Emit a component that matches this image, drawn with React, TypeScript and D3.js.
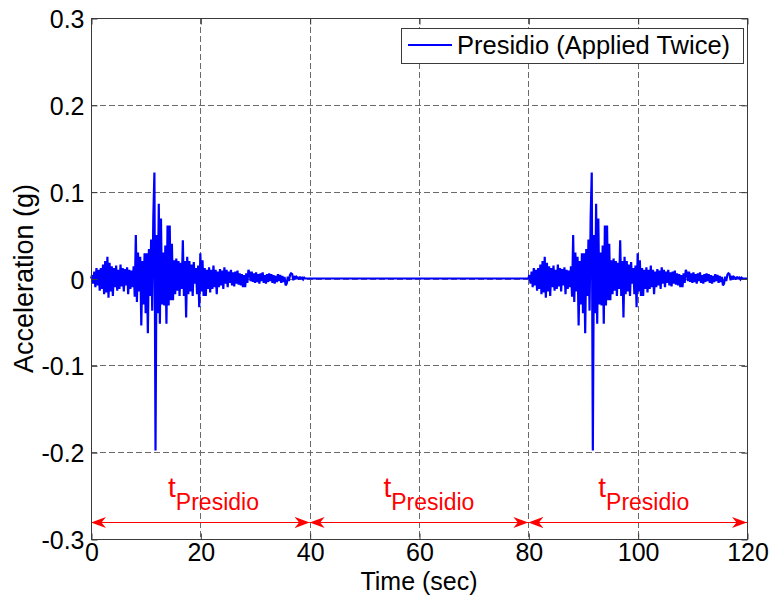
import React, { useEffect, useRef } from "react";
import * as d3 from "d3";

// ---- data ----
const xTicks = [0, 20, 40, 60, 80, 100, 120];
const xTickLabels = ["0", "20", "40", "60", "80", "100", "120"];
const yTicks = [-0.3, -0.2, -0.1, 0, 0.1, 0.2, 0.3];
const yTickLabels = ["-0.3", "-0.2", "-0.1", "0", "0.1", "0.2", "0.3"];
const xDomain = [0, 120];
const yDomain = [-0.3, 0.3];

const presidioDt = 0.2;
const presidioRecord = [
  0, 0.004, -0.006, 0.008, -0.01, 0.012, -0.008, 0.01, -0.014, 0.012,
  -0.012, 0.016, -0.018, 0.02, -0.016, 0.025, -0.022, 0.018, -0.015, 0.014,
  -0.02, 0.012, -0.01, 0.015, -0.014, 0.01, -0.012, 0.016, -0.009, 0.012,
  -0.015, 0.011, -0.008, 0.013, -0.018, 0.01, -0.012, 0.009, -0.01, 0.014,
  -0.021, 0.05, -0.027, 0.03, -0.015, 0.025, -0.054, 0.02, -0.03, 0.029,
  -0.04, 0.029, -0.063, 0.034, -0.02, 0.045, -0.037, 0.07, 0.122, -0.198,
  0.05, -0.04, 0.086, -0.052, 0.069, -0.03, 0.03, -0.031, 0.038, -0.052,
  0.061, -0.031, 0.061, -0.025, 0.04, -0.025, 0.021, -0.018, 0.023, -0.014,
  0.02, -0.02, 0.018, -0.012, 0.044, -0.02, 0.02, -0.045, 0.025, -0.018,
  0.02, -0.015, 0.016, -0.02, 0.019, -0.006, 0.012, -0.018, 0.015, -0.033,
  0.029, -0.015, 0.021, -0.02, 0.012, -0.02, 0.01, -0.012, 0.013, -0.016,
  0.01, -0.012, 0.015, -0.01, 0.01, -0.018, 0.008, -0.01, 0.011, -0.008,
  0.009, -0.012, 0.013, -0.006, 0.01, -0.01, 0.008, -0.005, 0.01, -0.008,
  0.007, -0.009, 0.008, -0.006, 0.009, -0.007, 0.006, -0.008, 0.005, -0.01,
  0.004, -0.01, 0.006, -0.005, 0.01, 0.007, -0.003, 0.008, -0.004, 0.006,
  -0.005, 0.007, -0.004, 0.005, -0.006, 0.006, -0.003, 0.007, -0.005, 0.004,
  -0.006, 0.005, -0.004, 0.006, -0.003, 0.005, -0.005, 0.004, -0.006, 0.003,
  -0.004, 0.005, -0.003, 0.004, -0.005, 0.003, -0.004, 0.002, -0.008, -0.006,
  0.002, -0.003, 0.004, 0.006, 0.005, -0.002, 0.003, -0.001, 0.002, 0.001,
  -0.001, 0.002, 0, 0.001, -0.001, 0.001, 0, 0, 0, 0,
];
const recordStarts = [0, 80];
const totalDuration = 120;

const segmentStarts = [0, 40, 80];
const segmentEnds = [40, 80, 120];
const segmentLabelX = [14.1, 53.5, 92.8];
const arrowLevel = -0.28;
const labelLevel = -0.252;
const segmentLabelMain = "t";
const segmentLabelSub = "Presidio";
const legendLabel = "Presidio (Applied Twice)";
const xLabel = "Time (sec)";
const yLabel = "Acceleration (g)";

const W = 773;
const H = 602;
const M = { left: 91, right: 26, top: 18, bottom: 63 };
const FONT = "Arial, 'Liberation Sans', sans-serif";

export default function App() {
  const ref = useRef<SVGSVGElement | null>(null);

  useEffect(() => {
    const svg = d3.select(ref.current);
    svg.selectAll("*").remove();

    const x = d3.scaleLinear().domain(xDomain).range([M.left, W - M.right]);
    const y = d3.scaleLinear().domain(yDomain).range([H - M.bottom, M.top]);
    const x0 = M.left, x1 = W - M.right, y0 = M.top, y1 = H - M.bottom;

    const defs = svg.append("defs");
    defs
      .append("marker")
      .attr("id", "arrowHead")
      .attr("markerUnits", "userSpaceOnUse")
      .attr("markerWidth", 16)
      .attr("markerHeight", 14)
      .attr("refX", 15)
      .attr("refY", 6)
      .attr("orient", "auto-start-reverse")
      .append("path")
      .attr("d", "M0,0.5 L15,6 L0,11.5 L4.5,6 Z")
      .attr("fill", "#ff0000");

    // background
    svg.append("rect").attr("x", 0).attr("y", 0).attr("width", W).attr("height", H).attr("fill", "#fff");

    // grid
    const grid = svg.append("g").attr("stroke", "#6a6a6a").attr("stroke-width", 1).attr("stroke-dasharray", "6,3");
    xTicks.filter((t) => t > xDomain[0] && t < xDomain[1]).forEach((t) => {
      grid.append("line").attr("x1", Math.round(x(t)) + 0.5).attr("x2", Math.round(x(t)) + 0.5).attr("y1", y0).attr("y2", y1);
    });
    yTicks.filter((t) => t > yDomain[0] && t < yDomain[1]).forEach((t) => {
      grid.append("line").attr("y1", Math.round(y(t)) + 0.5).attr("y2", Math.round(y(t)) + 0.5).attr("x1", x0).attr("x2", x1);
    });

    // series
    const series: [number, number][] = [];
    recordStarts.forEach((s) => {
      presidioRecord.forEach((v, i) => series.push([s + i * presidioDt, v]));
    });
    series.push([totalDuration, 0]);
    const line = d3
      .line<[number, number]>()
      .x((d) => x(d[0]))
      .y((d) => y(d[1]));
    svg
      .append("path")
      .datum(series)
      .attr("d", line)
      .attr("fill", "none")
      .attr("stroke", "#0000ff")
      .attr("stroke-width", 2.2)
      .attr("stroke-linejoin", "miter")
      .attr("stroke-miterlimit", 2);

    // arrows
    segmentStarts.forEach((s, i) => {
      svg
        .append("line")
        .attr("x1", x(s))
        .attr("x2", x(segmentEnds[i]))
        .attr("y1", Math.round(y(arrowLevel)) + 0.5)
        .attr("y2", Math.round(y(arrowLevel)) + 0.5)
        .attr("stroke", "#ff0000")
        .attr("stroke-width", 1)
        .attr("marker-start", "url(#arrowHead)")
        .attr("marker-end", "url(#arrowHead)");
      const t = svg
        .append("text")
        .attr("x", x(segmentLabelX[i]))
        .attr("y", y(labelLevel))
        .attr("fill", "#ff0000")
        .attr("font-family", FONT)
        .attr("font-size", 28)
        .text(segmentLabelMain);
      t.append("tspan").attr("dy", 13).attr("font-size", 23).text(segmentLabelSub);
    });

    // axes frame
    const frame = svg.append("g");
    frame
      .append("rect")
      .attr("x", x0 + 0.5)
      .attr("y", y0 + 0.5)
      .attr("width", x1 - x0)
      .attr("height", y1 - y0)
      .attr("fill", "none")
      .attr("stroke", "#3a3a3a")
      .attr("stroke-width", 1);

    const tickLen = 6;
    const axB = d3
      .axisBottom(x)
      .tickValues(xTicks)
      .tickSize(-tickLen)
      .tickPadding(4)
      .tickFormat((d, i) => xTickLabels[i]);
    const gB = svg.append("g").attr("transform", `translate(0.5,${y1 + 0.5})`).call(axB);
    const axL = d3
      .axisLeft(y)
      .tickValues(yTicks)
      .tickSize(-tickLen)
      .tickPadding(7)
      .tickFormat((d, i) => yTickLabels[i]);
    const gL = svg.append("g").attr("transform", `translate(${x0 + 0.5},0.5)`).call(axL);
    const axT = d3.axisTop(x).tickValues(xTicks).tickSize(-tickLen).tickFormat(() => "");
    const gT = svg.append("g").attr("transform", `translate(0.5,${y0 + 0.5})`).call(axT);
    const axR = d3.axisRight(y).tickValues(yTicks).tickSize(-tickLen).tickFormat(() => "");
    const gR = svg.append("g").attr("transform", `translate(${x1 + 0.5},0.5)`).call(axR);
    [gB, gL, gT, gR].forEach((g) => {
      g.select(".domain").remove();
      g.selectAll(".tick line").attr("stroke", "#3a3a3a");
      g.selectAll("text").attr("font-family", FONT).attr("font-size", 25).attr("fill", "#000");
    });
    gL.selectAll("text").attr("dy", "0.36em");

    // axis labels
    svg
      .append("text")
      .attr("x", (x0 + x1) / 2)
      .attr("y", 590)
      .attr("text-anchor", "middle")
      .attr("font-family", FONT)
      .attr("font-size", 25)
      .text(xLabel);
    svg
      .append("text")
      .attr("transform", `translate(33,${(y0 + y1) / 2}) rotate(-90)`)
      .attr("text-anchor", "middle")
      .attr("font-family", FONT)
      .attr("font-size", 27)
      .text(yLabel);

    // legend
    const lg = svg.append("g");
    lg.append("rect")
      .attr("x", 401.5)
      .attr("y", 28.5)
      .attr("width", 342)
      .attr("height", 35)
      .attr("fill", "#fff")
      .attr("stroke", "#3a3a3a")
      .attr("stroke-width", 1);
    lg.append("line")
      .attr("x1", 408)
      .attr("x2", 452)
      .attr("y1", 45)
      .attr("y2", 45)
      .attr("stroke", "#0000ff")
      .attr("stroke-width", 2);
    lg.append("text")
      .attr("x", 457)
      .attr("y", 54)
      .attr("font-family", FONT)
      .attr("font-size", 25.5)
      .text(legendLabel);
  }, []);

  return (
    <svg
      ref={ref}
      width={W}
      height={H}
      style={{ position: "absolute", left: 0, top: 0, display: "block" }}
    />
  );
}
